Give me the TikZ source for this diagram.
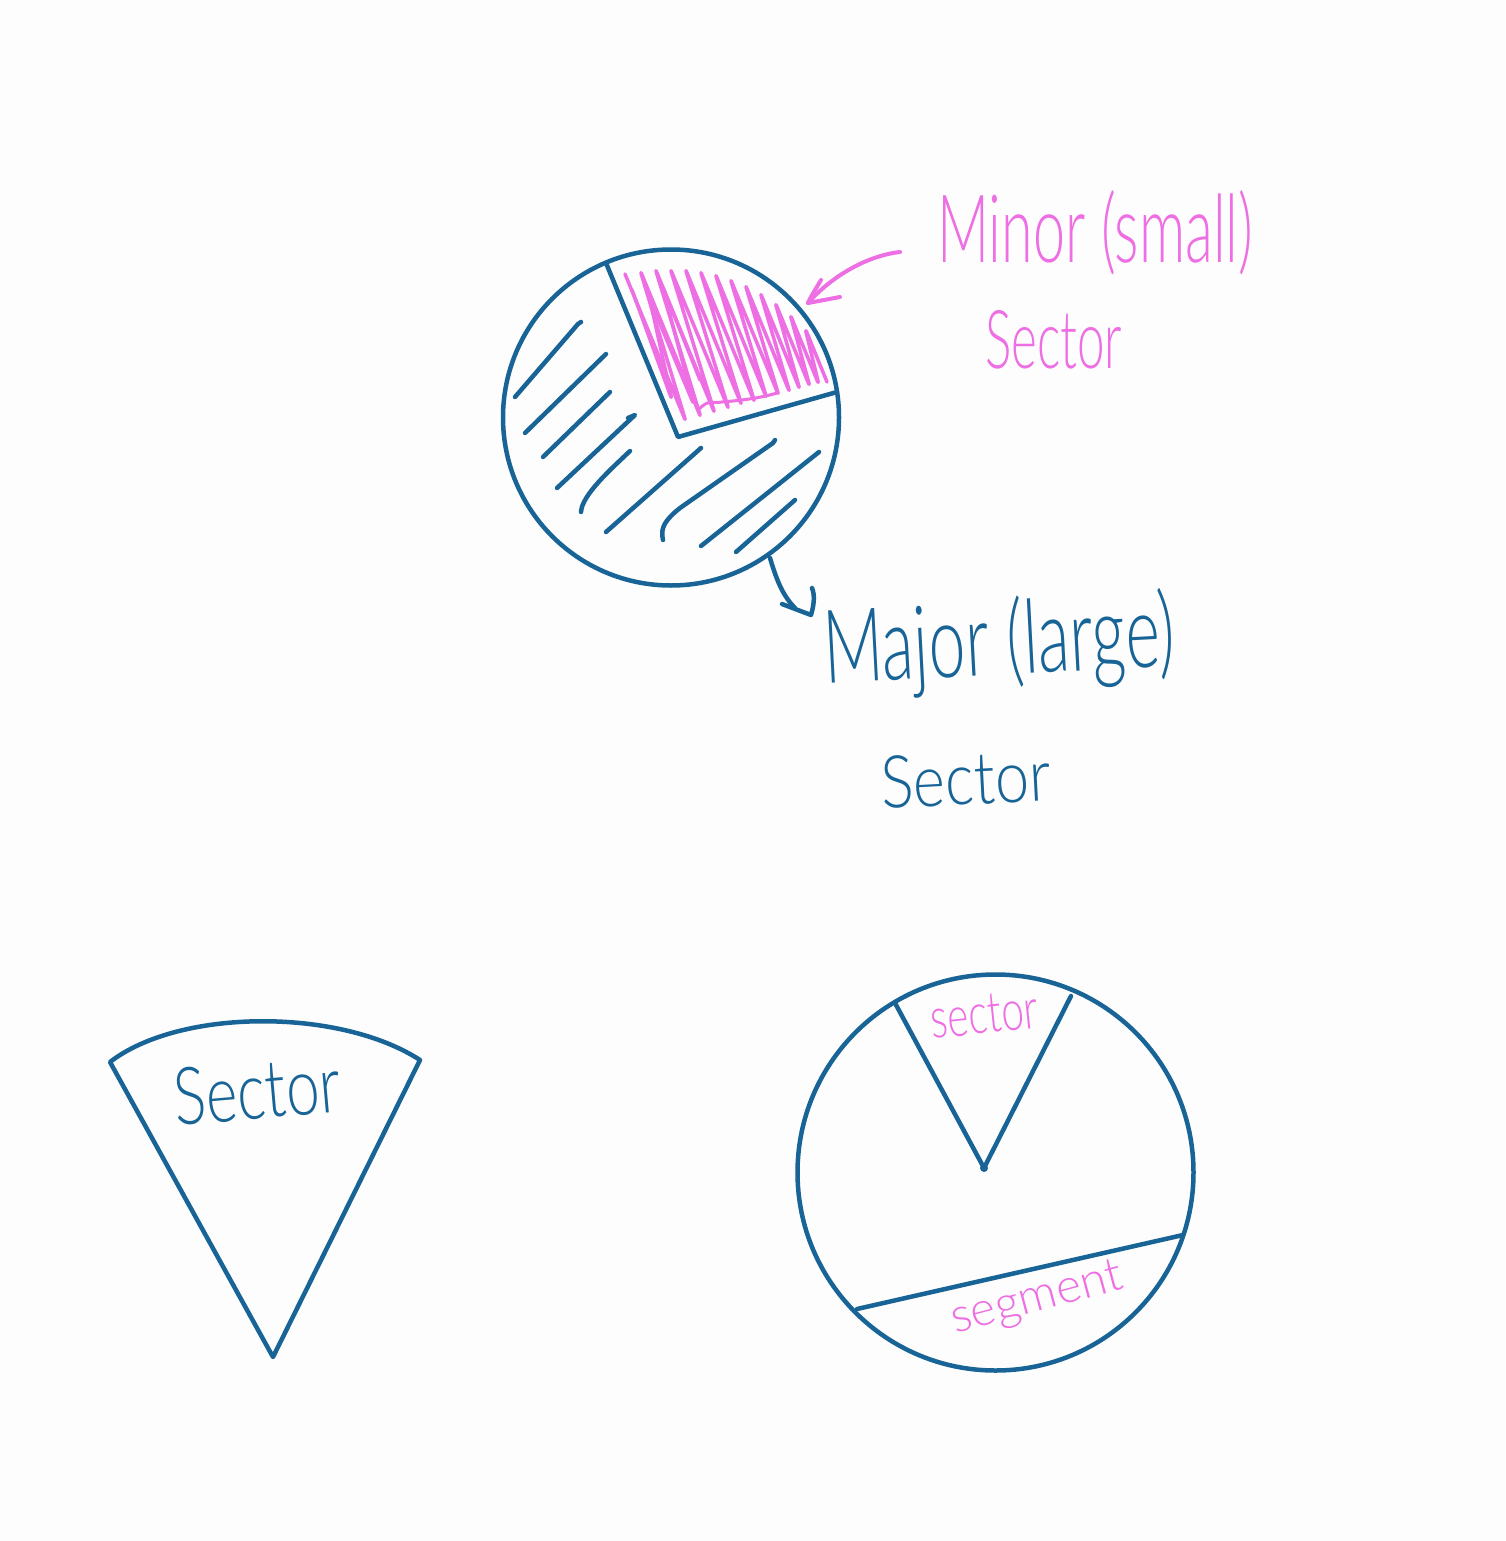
\documentclass[tikz,border=0pt]{standalone}
\usepackage{fontspec}
\setmainfont{Lato}[UprightFont={* Light}]
\usepackage{graphicx}
\definecolor{pblue}{RGB}{24,100,150}
\definecolor{ppink}{RGB}{238,110,228}
\definecolor{paper}{RGB}{253,253,253}
\begin{document}
\begin{tikzpicture}[x=1pt,y=-1pt,
  bluestroke/.style={draw=pblue, line width=4.5pt, line cap=round, line join=round},
  pinkstroke/.style={draw=ppink, line width=4pt, line cap=round, line join=round},
  bluetext/.style={text=pblue, inner sep=0pt, anchor=base west},
  pinktext/.style={text=ppink, inner sep=0pt, anchor=base west}]
\fill[paper] (0,0) rectangle (1505,1541);

% ---------- top circle ----------
\node[bluestroke, circle, minimum size=336pt, inner sep=0pt] (topcircle) at (671,417.5) {};
\coordinate (tv) at (678,437);
\coordinate (ta) at (606,263);
\coordinate (tb) at (837,392);
\draw[bluestroke] (ta) -- (tv) -- (tb);

% pink scribble in minor sector
\draw[pinkstroke, line width=3.5pt, rounded corners=5pt]
  (625,274) -- (686,422) -- (640,270) -- (701,418) -- (655,268) -- (715,414)
  -- (670,268) -- (729,410) -- (685,268) -- (742,406) -- (700,270) -- (755,403)
  -- (715,273) -- (767,399) -- (730,278) -- (779,396) -- (745,284) -- (790,393)
  -- (760,292) -- (800,390) -- (775,302) -- (810,387) -- (790,314) -- (819,385)
  -- (805,328) -- (827,382);
\draw[pinkstroke, line width=3.5pt, rounded corners=5pt]
  (632,290) -- (672,400) -- (650,300) -- (694,405) -- (662,285) -- (700,380);
\draw[pinkstroke, line width=3pt] (698,410) .. controls (710,398) and (712,404) .. (722,402)
  .. controls (745,400) and (760,398) .. (777,393);

% blue hatching in major sector
\draw[bluestroke] (515,397) -- (578,324) -- (581,322);
\draw[bluestroke] (525,433) -- (606,354);
\draw[bluestroke] (543,457) -- (610,392);
\draw[bluestroke] (557,488) -- (635,415) -- (628,418);
\draw[bluestroke] (581,512) .. controls (582,495) and (610,470) .. (630,451);
\draw[bluestroke] (606,532) -- (701,448);
\draw[bluestroke] (663,540) .. controls (660,528) and (665,520) .. (680,508) -- (773,443) -- (775,440);
\draw[bluestroke] (701,546) -- (819,452);
\draw[bluestroke] (736,552) -- (795,500);

% pink arrow to minor sector
\coordinate (pa0) at (900,252);
\coordinate (patip) at (808,303);
\coordinate (pab1) at (821,280);
\coordinate (pab2) at (840,297);
\draw[pinkstroke] (pa0) .. controls (865,256) and (830,278) .. (patip);
\draw[pinkstroke] (pab1) .. controls (815,290) and (810,298) .. (patip) -- (pab2);

% blue arrow to major sector label
\coordinate (ma0) at (770,558);
\coordinate (matip) at (811,615);
\coordinate (mab1) at (782,604);
\coordinate (mab2) at (812,588);
\draw[bluestroke] (ma0) .. controls (776,578) and (782,595) .. (795,608);
\draw[bluestroke] (mab1) -- (matip) .. controls (814,605) and (815,595) .. (mab2);

% labels, top part
\node[pinktext] (minorlbl) at (937,262) {\resizebox{316pt}{72pt}{Minor (small)}};
\node[pinktext] (minorsec) at (985,368) {\resizebox{137pt}{58pt}{Sector}};
\node[bluetext, rotate=3] (majorlbl) at (825,684) {\resizebox{352pt}{78pt}{Major (large)}};
\node[bluetext, rotate=3] (majorsec) at (882,809) {\resizebox{170pt}{52pt}{Sector}};

% ---------- bottom-left sector ----------
\coordinate (sv) at (273,1357);
\coordinate (sl) at (110,1062);
\coordinate (sr) at (420,1060);
\draw[bluestroke] (sl) .. controls (180,1008) and (340,1008) .. (sr) -- (sv) -- cycle;
\node[bluetext, rotate=5] (sectlbl) at (176,1126) {\resizebox{167pt}{57pt}{Sector}};

% ---------- bottom-right circle ----------
\node[bluestroke, circle, minimum size=396pt, inner sep=0pt] (botcircle) at (995.5,1172.5) {};
\coordinate (bv) at (984,1168);
\coordinate (ba) at (895,1003);
\coordinate (bb) at (1071,996);
\draw[bluestroke] (ba) -- (bv) -- (bb);
\fill[pblue] (bv) circle[radius=4pt];
\coordinate (c1) at (857,1309);
\coordinate (c2) at (1183,1235);
\draw[bluestroke] (c1) -- (c2);
\node[pinktext, rotate=6] (smallsec) at (932,1039) {\resizebox{108pt}{38pt}{sector}};
\node[pinktext, rotate=15] (seglbl) at (955,1334) {\resizebox{176pt}{32pt}{segment}};
\end{tikzpicture}
\end{document}
